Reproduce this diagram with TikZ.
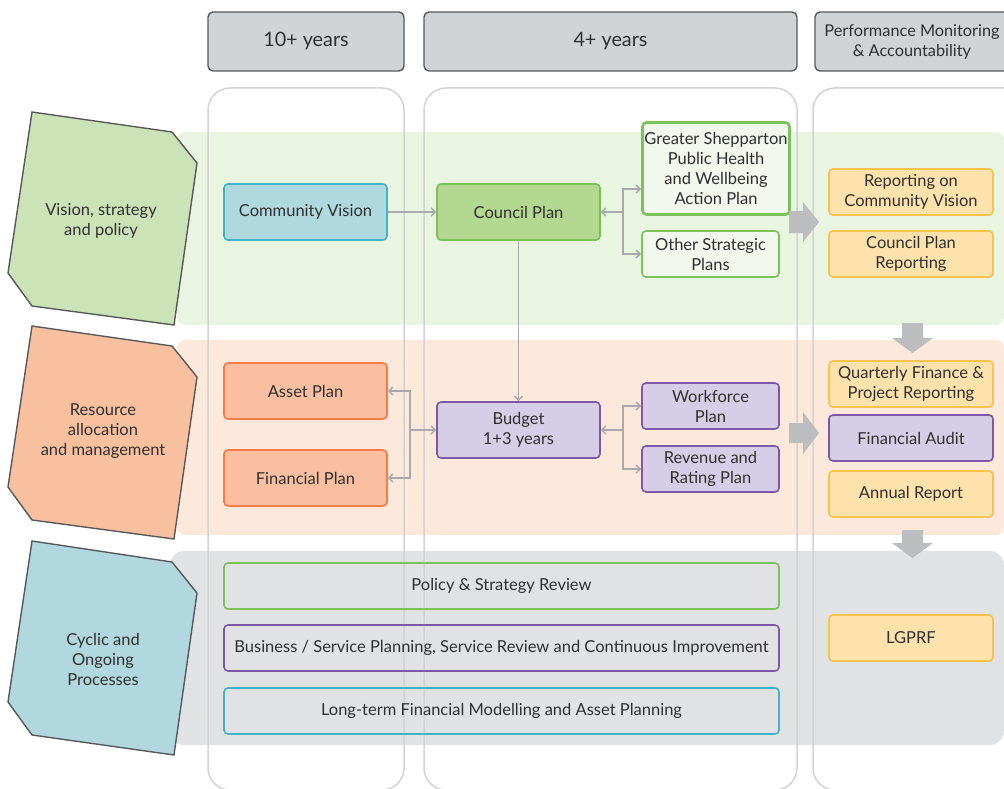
\documentclass[tikz,border=0pt]{standalone}
\usepackage{fontspec}
\setmainfont{Lato}
\usetikzlibrary{arrows.meta,calc}
\definecolor{txt}{HTML}{303030}
\definecolor{bandG}{HTML}{E9F4E1}
\definecolor{bandO}{HTML}{FCE9DB}
\definecolor{bandC}{HTML}{E1E2E4}
\definecolor{laneC}{HTML}{D2D3D4}
\definecolor{hdrF}{HTML}{D1D3D4}
\definecolor{hdrD}{HTML}{58595B}
\definecolor{pentG}{HTML}{CCE3B8}
\definecolor{pentO}{HTML}{F9C09F}
\definecolor{pentC}{HTML}{B1D8DF}
\definecolor{gF}{HTML}{B3D890}
\definecolor{gD}{HTML}{7CC15A}
\definecolor{cF}{HTML}{B0D8DF}
\definecolor{cD}{HTML}{40B4C4}
\definecolor{oF}{HTML}{F9BFA0}
\definecolor{oD}{HTML}{F47C4A}
\definecolor{pF}{HTML}{D6CDE6}
\definecolor{pD}{HTML}{7E58A6}
\definecolor{yF}{HTML}{FDE2AC}
\definecolor{yD}{HTML}{F9C24C}
\definecolor{arrC}{HTML}{A7A9AC}
\definecolor{blkC}{HTML}{BCBDBF}
\newcommand{\fs}{\fontsize{16.5}{20}\selectfont}
\begin{document}
\begin{tikzpicture}[x=1pt,y=-1pt,
  box/.style={rounded corners=4pt, line width=1.6pt, align=center, font=\fs, text=txt, inner sep=1pt},
  gbox/.style={box, fill=gF, draw=gD},
  cbox/.style={box, fill=cF, draw=cD},
  obox/.style={box, fill=oF, draw=oD},
  pbox/.style={box, fill=pF, draw=pD},
  ybox/.style={box, fill=yF, draw=yD},
  wide/.style={minimum width=163pt, minimum height=56pt},
  narrow/.style={minimum width=137pt, minimum height=46pt},
  rep/.style={minimum width=164pt, minimum height=46pt},
  long/.style={box, minimum width=555pt, minimum height=46pt},
  hdr/.style={rounded corners=5pt, line width=1.4pt, fill=hdrF, draw=hdrD, align=center, text=txt, minimum height=59pt},
  lane/.style={draw=laneC, line width=1.5pt, rounded corners=22pt},
  pent/.style={draw=hdrD, line width=1.4pt},
  ptxt/.style={font=\fs, text=txt, align=center},
  arr/.style={draw=arrC, line width=1.5pt, -{Straight Barb[length=4pt,width=8pt]}},
  blk/.style={fill=blkC, draw=none}
]
\useasboundingbox (0,0) rectangle (1004,789);
\clip (0,0) rectangle (1004,789);

% bands
\fill[bandG, rounded corners=8pt] (177,132) rectangle (1004,325);
\fill[bandO, rounded corners=8pt] (177,340) rectangle (1004,535);
\fill[bandC, rounded corners=14pt] (170,551) rectangle (1004,745);

% lanes
\draw[lane] (208,88) rectangle (404,790);
\draw[lane] (424,88) rectangle (797,790);
\draw[lane] (813,88) rectangle (1030,790);

% headers
\node[hdr, minimum width=196pt, font=\fontsize{19.8}{22}\selectfont] (h1) at (306,41.5) {10+ years};
\node[hdr, minimum width=373pt, font=\fontsize{19.8}{22}\selectfont] (h2) at (610.5,41.5) {4+ years};
\node[hdr, minimum width=194pt, font=\fontsize{16.3}{20}\selectfont] (h3) at (912,41.5) {Performance Monitoring\\\& Accountability};

% pentagons
\filldraw[pent, fill=pentG] (32,112) -- (172,132) -- (197,163) -- (174,325) -- (32,306) -- (8,273) -- cycle;
\node[ptxt] (p1) at (101,221) {Vision, strategy\\and policy};
\filldraw[pent, fill=pentO] (32,326) -- (172,346) -- (197,377) -- (174,539) -- (32,520) -- (8,487) -- cycle;
\node[ptxt] (p2) at (103,431) {Resource\\allocation\\and management};
\filldraw[pent, fill=pentC] (32,541) -- (172,562) -- (197,593) -- (174,755) -- (32,735) -- (8,702) -- cycle;
\node[ptxt] (p3) at (103,659) {Cyclic and\\Ongoing\\Processes};

% boxes
\node[cbox, wide] (cv) at (305.5,212) {Community Vision};
\node[gbox, wide] (cp) at (518.5,212) {Council Plan};
\node[box, fill=bandG!60!white, draw=gD, line width=2.6pt, minimum width=147pt, minimum height=92pt] (gs) at (716,168.5) {Greater Shepparton\\Public Health\\and Wellbeing\\Action Plan};
\node[box, fill=bandG!60!white, draw=gD, narrow] (os) at (710.5,254) {Other Strategic\\Plans};
\node[obox, wide] (ap) at (305.5,391) {Asset Plan};
\node[obox, wide] (fp) at (305.5,478) {Financial Plan};
\node[pbox, wide] (bu) at (518.5,430) {Budget\\1+3 years};
\node[pbox, narrow] (wf) at (710.5,406) {Workforce\\Plan};
\node[pbox, narrow] (rr) at (710.5,469) {Revenue and\\Rating Plan};
\node[ybox, rep] (rcv) at (911,192) {Reporting on\\Community Vision};
\node[ybox, rep] (cpr) at (911,254) {Council Plan\\Reporting};
\node[ybox, rep] (qf) at (911,384) {Quarterly Finance \&\\Project Reporting};
\node[pbox, rep] (fa) at (911,438) {Financial Audit};
\node[ybox, rep] (ar) at (911,494) {Annual Report};
\node[ybox, rep] (lg) at (911,638) {LGPRF};
\node[long, draw=gD] (ps) at (501.5,586) {Policy \& Strategy Review};
\node[long, draw=pD] (bs) at (501.5,648) {Business / Service Planning, Service Review and Continuous Improvement};
\node[long, draw=cD] (lt) at (501.5,711) {Long-term Financial Modelling and Asset Planning};

% connectors
\draw[arr] (cv) -- (cp);
\coordinate (j1) at (623,212);
\draw[arr] (j1) -- (cp.east);
\draw[arr] (j1) |- ([yshift=-20.5pt]gs.west);
\draw[arr] (j1) |- (os.west);
\draw[arr] (cp) -- (bu);
\coordinate (j2) at (623,430);
\draw[arr] (j2) -- (bu.east);
\draw[arr] (j2) |- (wf.west);
\draw[arr] (j2) |- (rr.west);
\coordinate (j3) at (410,430);
\draw[arr] (j3) -- (bu.west);
\draw[arr] (j3) |- (ap.east);
\draw[arr] (j3) |- (fp.east);

% block arrows
\fill[blk] (789,211) -- (803,211) -- (803,202) -- (819,222) -- (803,242) -- (803,233) -- (789,233) -- cycle;
\fill[blk] (789,423) -- (803,423) -- (803,412) -- (819,433) -- (803,454) -- (803,443) -- (789,443) -- cycle;
\fill[blk] (902,323) -- (923,323) -- (923,338) -- (933,338) -- (912.5,353) -- (892,338) -- (902,338) -- cycle;
\fill[blk] (902,530) -- (923,530) -- (923,543) -- (933,543) -- (912.5,558) -- (892,543) -- (902,543) -- cycle;
\end{tikzpicture}
\end{document}
